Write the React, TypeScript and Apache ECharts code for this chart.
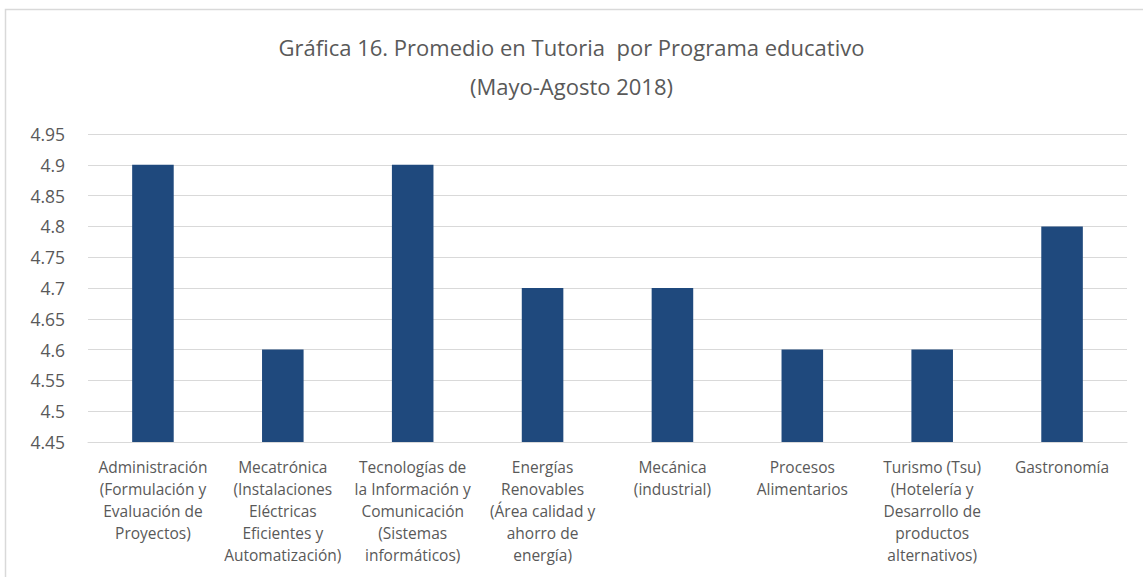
import React, { useEffect, useRef } from "react";
import * as echarts from "echarts";

const titleLines = ["Gráfica 16. Promedio en Tutoria  por Programa educativo", "(Mayo-Agosto 2018)"];

const categories = [
  "Administración\n(Formulación y\nEvaluación de\nProyectos)",
  "Mecatrónica\n(Instalaciones\nEléctricas\nEficientes y\nAutomatización)",
  "Tecnologías de\nla Información y\nComunicación\n(Sistemas\ninformáticos)",
  "Energías\nRenovables\n(Área calidad y\nahorro de\nenergía)",
  "Mecánica\n(industrial)",
  "Procesos\nAlimentarios",
  "Turismo (Tsu)\n(Hotelería y\nDesarrollo de\nproductos\nalternativos)",
  "Gastronomía",
];

const values = [4.9, 4.6, 4.9, 4.7, 4.7, 4.6, 4.6, 4.8];

const yMin = 4.45;
const yMax = 4.95;
const yStep = 0.05;

const FONT = "'Open Sans', sans-serif";
const GREY = "#595959";

export default function App() {
  const ref = useRef<HTMLDivElement>(null);
  useEffect(() => {
    if (!ref.current) return;
    const chart = echarts.init(ref.current, undefined, { renderer: "svg" });
    chart.setOption({
      animation: false,
      backgroundColor: "#ffffff",
      title: {
        text: titleLines.join("\n"),
        left: "center",
        top: 22,
        textStyle: {
          fontFamily: FONT,
          fontSize: 22,
          fontWeight: "normal",
          color: GREY,
          lineHeight: 39,
        },
      },
      graphic: [
        {
          type: "rect",
          shape: { x: 5.5, y: 9.5, width: 1200, height: 700 },
          style: { fill: "none", stroke: "#d9d9d9", lineWidth: 1.5 },
          silent: true,
        },
      ],
      grid: { left: 88, right: 16, top: 134, bottom: 135, containLabel: false },
      xAxis: {
        type: "category",
        data: categories,
        axisLine: { show: true, lineStyle: { color: "#d9d9d9", width: 1 } },
        axisTick: { show: false },
        axisLabel: {
          interval: 0,
          fontFamily: FONT,
          fontSize: 15.5,
          color: GREY,
          lineHeight: 22,
          margin: 14,
          align: "center",
        },
      },
      yAxis: {
        type: "value",
        min: yMin,
        max: yMax,
        interval: yStep,
        axisLine: { show: false },
        axisTick: { show: false },
        splitLine: { lineStyle: { color: "#d9d9d9", width: 1 } },
        axisLabel: {
          fontFamily: FONT,
          fontSize: 17.5,
          color: GREY,
          margin: 23,
          formatter: (v: number) => String(parseFloat(v.toFixed(2))),
        },
      },
      series: [
        {
          type: "bar",
          data: values,
          barWidth: "32%",
          itemStyle: { color: "#1F497D" },
        },
      ],
    });
    return () => chart.dispose();
  }, []);
  return (
    <div
      ref={ref}
      style={{ position: "absolute", left: 0, top: 0, width: 1143, height: 577 }}
    />
  );
}
